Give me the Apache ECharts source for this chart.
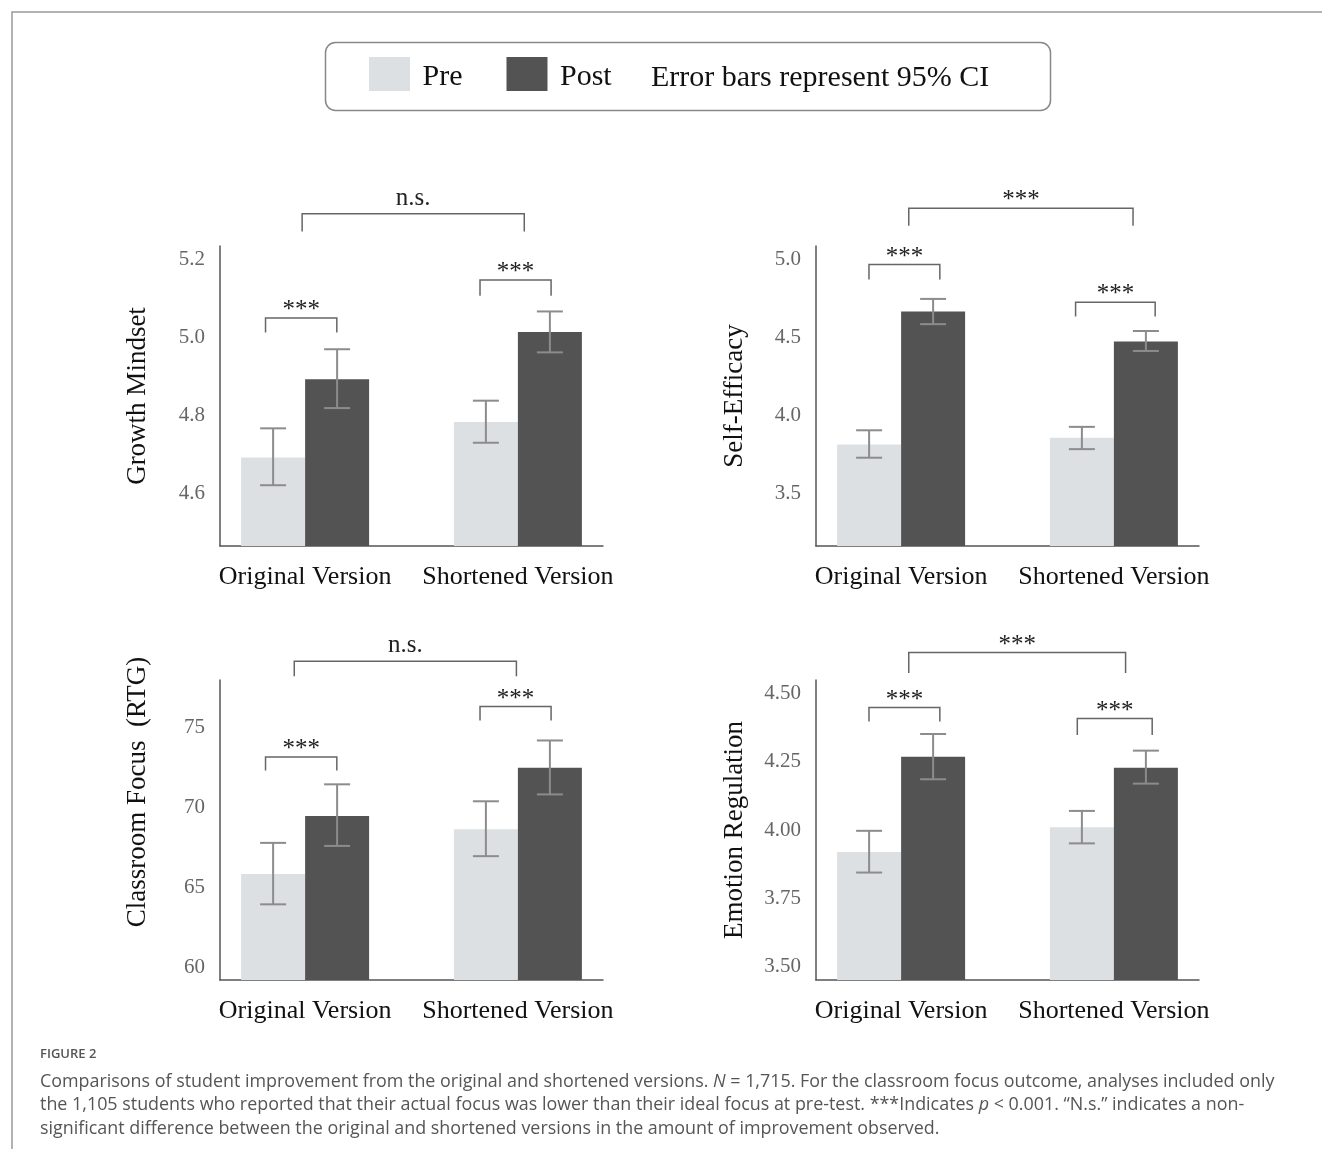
<!DOCTYPE html>
<html>
<head>
<meta charset="utf-8">
<script src="https://cdn.jsdelivr.net/npm/echarts@6/dist/echarts.min.js"></script>
<style>
  html, body { margin: 0; padding: 0; background: #fff; }
  #chart { width: 1322px; height: 1149px; }
</style>
</head>
<body>
<div id="chart"></div>
<script>
// categories on every panel
var categories = ['Original Version', 'Shortened Version'];
var panelNames = ['Growth Mindset', 'Self-Efficacy', 'Classroom Focus  (RTG)', 'Emotion Regulation'];

// means, one row per panel: [original, shortened]
var preMean  = [[4.692, 4.783], [3.814, 3.857], [65.82, 68.62], [3.919, 4.010]];
var postMean = [[4.893, 5.014], [4.667, 4.475], [69.45, 72.47], [4.269, 4.228]];

// 95% CI
var preLow   = [[4.621, 4.730], [3.729, 3.784], [63.93, 66.94], [3.844, 3.951]];
var preHigh  = [[4.767, 4.838], [3.905, 3.927], [67.77, 70.37], [3.997, 4.070]];
var postLow  = [[4.819, 4.962], [4.586, 4.414], [67.58, 70.80], [4.186, 4.170]];
var postHigh = [[4.970, 5.067], [4.748, 4.542], [71.43, 74.17], [4.352, 4.291]];

// y axes
var yMin = [4.465, 3.1625, 59.2, 3.45];
var yMax = [5.235, 5.0875, 77.95, 4.55];
var yTicks = [[4.6, 4.8, 5.0, 5.2], [3.5, 4.0, 4.5, 5.0], [60, 65, 70, 75], [3.5, 3.75, 4.0, 4.25, 4.5]];
var yDecimals = [1, 1, 0, 2];

// significance brackets: [x from, x to, y of bar, y of leg end, label index]
var brackets = [
  [[0.814, 1.149, 5.050, 5.013, 0], [1.822, 2.156, 5.148, 5.107, 0], [0.986, 2.030, 5.318, 5.272, 1]],
  [[0.849, 1.182, 4.968, 4.872, 0], [1.820, 2.194, 4.727, 4.635, 0], [1.036, 2.090, 5.329, 5.218, 0]],
  [[0.814, 1.149, 73.13, 72.30, 0], [1.822, 2.156, 76.29, 75.42, 0], [0.949, 1.993, 79.12, 78.18, 1]],
  [[0.849, 1.182, 4.449, 4.398, 0], [1.828, 2.180, 4.409, 4.348, 0], [1.036, 2.055, 4.651, 4.576, 0]]
];
var bracketLabels = ['***', 'n.s.'];

var SERIF = "'Liberation Serif', 'Times New Roman', serif";
var SANS = "'Open Sans', 'Noto Sans', sans-serif";
var BAR_W = 64;
var PRE_COLOR = '#dce0e2';
var POST_COLOR = '#525352';

var gridPos = [[220, 246], [816, 246], [220, 680], [816, 680]];
var nameGap = [69, 68, 69, 68];
var namePad = [0, 0, 76, 0];

var chart = echarts.init(document.getElementById('chart'), null, { renderer: 'canvas' });

//误差线
function renderErrorBar(params, api) {
  var x = api.value(0);
  var side = api.value(3);
  var lo = api.coord([x, api.value(1)]);
  var hi = api.coord([x, api.value(2)]);
  var cx = lo[0] + side * BAR_W / 2;
  var w = 13;
  var style = { stroke: '#8c8c8c', lineWidth: 2 };
  return {
    type: 'group',
    children: [
      { type: 'line', shape: { x1: cx, y1: hi[1], x2: cx, y2: lo[1] }, style: style },
      { type: 'line', shape: { x1: cx - w, y1: hi[1], x2: cx + w, y2: hi[1] }, style: style },
      { type: 'line', shape: { x1: cx - w, y1: lo[1], x2: cx + w, y2: lo[1] }, style: style }
    ]
  };
}

//显著性标注
function renderBracket(params, api) {
  var a = api.coord([api.value(0), api.value(2)]);
  var b = api.coord([api.value(1), api.value(2)]);
  var leg = api.coord([api.value(0), api.value(3)]);
  var label = bracketLabels[api.value(4)];
  return {
    type: 'group',
    children: [
      {
        type: 'polyline',
        shape: { points: [[a[0], leg[1]], [a[0], a[1]], [b[0], b[1]], [b[0], leg[1]]] },
        style: { stroke: '#666', lineWidth: 1.5, fill: null }
      },
      {
        type: 'text',
        x: (a[0] + b[0]) / 2,
        y: a[1] + (label === '***' ? 5 : -3),
        style: {
          text: label, fill: '#222', fontSize: 25, fontFamily: SERIF,
          align: 'center', verticalAlign: 'bottom'
        }
      }
    ]
  };
}

var grids = [], xAxes = [], yAxes = [], series = [];
for (var i = 0; i < 4; i++) {
  grids.push({ left: gridPos[i][0], top: gridPos[i][1], width: 383, height: 300 });
  xAxes.push({
    type: 'value', gridIndex: i, min: 0.6, max: 2.4,
    axisLine: { show: true, onZero: false, lineStyle: { color: '#555', width: 1.5 } },
    axisTick: { show: false },
    splitLine: { show: false },
    axisLabel: {
      customValues: [1, 2],
      formatter: function (v) { return categories[Math.round(v) - 1]; },
      color: '#111', fontSize: 26, fontFamily: SERIF, margin: 18
    }
  });
  (function (k) {
    yAxes.push({
      type: 'value', gridIndex: k, min: yMin[k], max: yMax[k],
      name: panelNames[k], nameLocation: 'middle', nameGap: nameGap[k],
      nameTextStyle: { color: '#111', fontSize: 27, fontFamily: SERIF, padding: [0, 0, 0, namePad[k]] },
      axisLine: { show: true, onZero: false, lineStyle: { color: '#555', width: 1.5 } },
      axisTick: { show: false },
      splitLine: { show: false },
      axisLabel: {
        customValues: yTicks[k],
        formatter: function (v) { return v.toFixed(yDecimals[k]); },
        color: '#666', fontSize: 21, fontFamily: SERIF, margin: 15
      }
    });
  })(i);

  var errData = [];
  for (var j = 0; j < categories.length; j++) {
    errData.push([j + 1, preLow[i][j], preHigh[i][j], -1]);
    errData.push([j + 1, postLow[i][j], postHigh[i][j], 1]);
  }

  series.push({
    name: 'Pre', type: 'bar', xAxisIndex: i, yAxisIndex: i,
    barWidth: BAR_W, barGap: '0%',
    itemStyle: { color: PRE_COLOR },
    data: categories.map(function (c, j) { return [j + 1, preMean[i][j]]; })
  });
  series.push({
    name: 'Post', type: 'bar', xAxisIndex: i, yAxisIndex: i,
    barWidth: BAR_W, barGap: '0%',
    itemStyle: { color: POST_COLOR },
    data: categories.map(function (c, j) { return [j + 1, postMean[i][j]]; })
  });
  series.push({
    type: 'custom', xAxisIndex: i, yAxisIndex: i, clip: false, z: 5,
    renderItem: renderErrorBar, data: errData
  });
  series.push({
    type: 'custom', xAxisIndex: i, yAxisIndex: i, clip: false, z: 5,
    renderItem: renderBracket, data: brackets[i]
  });
}

var option = {
  animation: false,
  backgroundColor: '#fff',
  grid: grids,
  xAxis: xAxes,
  yAxis: yAxes,
  legend: {
    data: ['Pre', 'Post'],
    left: 369, top: 57, padding: 0,
    icon: 'rect', itemWidth: 41, itemHeight: 34, itemGap: 44,
    selectedMode: false,
    formatter: function (n) { return '{t| ' + n + '}'; },
    textStyle: {
      color: '#111', fontSize: 30, fontFamily: SERIF,
      rich: { t: { color: '#111', fontSize: 30, fontFamily: SERIF, padding: [7, 0, 0, 0] } }
    }
  },
  title: [
    {
      text: 'Error bars represent 95% CI', left: 651, top: 63, padding: 0,
      textStyle: { color: '#111', fontSize: 30, fontWeight: 'normal', fontFamily: SERIF }
    },
    {
      text: 'FIGURE 2', left: 40, top: 1048, padding: 0,
      textStyle: { color: '#555', fontSize: 13, fontWeight: 600, fontFamily: SANS }
    },
    {
      text: '{n|Comparisons of student improvement from the original and shortened versions. }{i|N}{n| = 1,715. For the classroom focus outcome, analyses included only}\n' +
            '{n|the 1,105 students who reported that their actual focus was lower than their ideal focus at pre-test. ***Indicates }{i|p}{n| < 0.001. \u201cN.s.\u201d indicates a non-}\n' +
            '{n|significant difference between the original and shortened versions in the amount of improvement observed.}',
      left: 40, top: 1070, padding: 0,
      textStyle: {
        fontWeight: 'normal',
        rich: {
          n: { color: '#555', fontSize: 17.9, fontWeight: 'normal', fontFamily: SANS, lineHeight: 23.5 },
          i: { color: '#555', fontSize: 17.9, fontWeight: 'normal', fontFamily: SANS, fontStyle: 'italic', lineHeight: 23.5 }
        }
      }
    }
  ],
  graphic: [
    {
      type: 'rect', left: 323, top: 40, silent: true,
      shape: { width: 725, height: 68, r: 10 },
      style: { fill: null, stroke: '#888', lineWidth: 1.5 }
    },
    {
      type: 'polyline', silent: true,
      shape: { points: [[12, 1149], [12, 12], [1322, 12]] },
      style: { fill: null, stroke: '#999', lineWidth: 1.5 }
    }
  ],
  series: series
};

chart.setOption(option);
</script>
</body>
</html>
